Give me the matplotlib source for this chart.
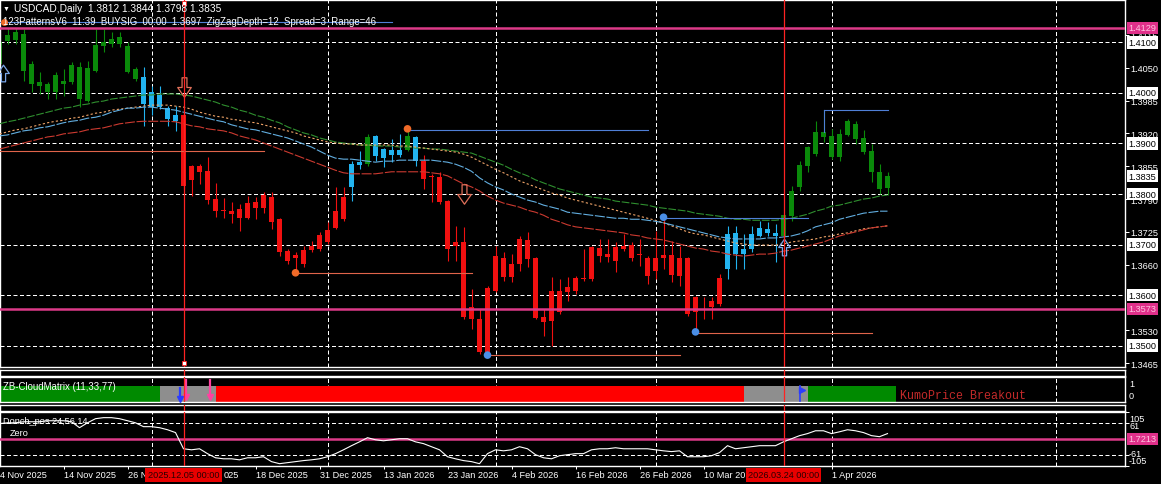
import matplotlib
matplotlib.use("Agg")
import matplotlib.pyplot as plt
from matplotlib.path import Path
from matplotlib.transforms import blended_transform_factory as blend

plt.rcParams['font.family'] = ['Liberation Sans', 'DejaVu Sans']

W, H = 1161, 485

# ---------------- data ----------------
# daily USDCAD bars, 4 Nov 2025 .. 10 Apr 2026 (bar index 0..111)
opens = [1.4057, 1.4103, 1.4121, 1.4117, 1.4057, 1.4014, 1.4018, 1.4002, 1.4024, 1.4022,
         1.4051, 1.3984, 1.4043, 1.4093, 1.4107, 1.4097, 1.4093, 1.4028, 1.4032, 1.3972,
         1.3996, 1.3970, 1.3944, 1.3956, 1.3828, 1.3855, 1.3846, 1.3790, 1.3768, 1.3766,
         1.3752, 1.3752, 1.3772, 1.3772, 1.3794, 1.3750, 1.3687, 1.3673, 1.3661, 1.3689,
         1.3691, 1.3705, 1.3733, 1.3750, 1.3814, 1.3857, 1.3859, 1.3915, 1.3871, 1.3887,
         1.3877, 1.3887, 1.3913, 1.3865, 1.3836, 1.3834, 1.3786, 1.3705, 1.3705, 1.3576,
         1.3552, 1.3487, 1.3608, 1.3673, 1.3636, 1.3661, 1.3709, 1.3673, 1.3556, 1.3548,
         1.3608, 1.3606, 1.3608, 1.3632, 1.3632, 1.3693, 1.3675, 1.3667, 1.3691, 1.3699,
         1.3681, 1.3673, 1.3647, 1.3673, 1.3679, 1.3638, 1.3673, 1.3566, 1.3572, 1.3576,
         1.3582, 1.3651, 1.3723, 1.3681, 1.3691, 1.3717, 1.3731, 1.3723, 1.3717, 1.3756,
         1.3814, 1.3855, 1.3879, 1.3923, 1.3915, 1.3873, 1.3917, 1.3939, 1.3911, 1.3885,
         1.3844, 1.3812]
highs = [1.4117, 1.4129, 1.4129, 1.4127, 1.4063, 1.4042, 1.4022, 1.4042, 1.4047, 1.4061,
         1.4061, 1.4063, 1.4127, 1.4127, 1.4121, 1.4121, 1.4101, 1.4051, 1.4051, 1.4014,
         1.4014, 1.3974, 1.3974, 1.3962, 1.3857, 1.3859, 1.3873, 1.3822, 1.3792, 1.3784,
         1.3780, 1.3796, 1.3794, 1.3804, 1.3804, 1.3752, 1.3691, 1.3685, 1.3697, 1.3707,
         1.3725, 1.3744, 1.3814, 1.3814, 1.3865, 1.3885, 1.3919, 1.3917, 1.3891, 1.3909,
         1.3919, 1.3925, 1.3915, 1.3877, 1.3840, 1.3844, 1.3788, 1.3737, 1.3735, 1.3612,
         1.3572, 1.3618, 1.3697, 1.3685, 1.3681, 1.3717, 1.3725, 1.3675, 1.3572, 1.3636,
         1.3632, 1.3636, 1.3638, 1.3691, 1.3697, 1.3711, 1.3711, 1.3705, 1.3721, 1.3705,
         1.3711, 1.3677, 1.3727, 1.3752, 1.3707, 1.3697, 1.3675, 1.3598, 1.3596, 1.3596,
         1.3642, 1.3737, 1.3737, 1.3721, 1.3737, 1.3746, 1.3744, 1.3741, 1.3760, 1.3816,
         1.3865, 1.3895, 1.3944, 1.3966, 1.3929, 1.3929, 1.3948, 1.3944, 1.3927, 1.3899,
         1.3859, 1.3844]
lows = [1.4047, 1.4097, 1.4097, 1.4024, 1.4002, 1.3998, 1.3988, 1.3988, 1.3994, 1.4018,
        1.3972, 1.3982, 1.4042, 1.4081, 1.4091, 1.4091, 1.4040, 1.4024, 1.3935, 1.3956,
        1.3968, 1.3935, 1.3925, 1.3810, 1.3796, 1.3820, 1.3780, 1.3754, 1.3752, 1.3742,
        1.3727, 1.3750, 1.3750, 1.3762, 1.3731, 1.3677, 1.3661, 1.3644, 1.3655, 1.3685,
        1.3687, 1.3701, 1.3731, 1.3746, 1.3786, 1.3850, 1.3855, 1.3865, 1.3853, 1.3863,
        1.3873, 1.3885, 1.3855, 1.3810, 1.3784, 1.3780, 1.3667, 1.3667, 1.3552, 1.3533,
        1.3483, 1.3481, 1.3606, 1.3628, 1.3626, 1.3647, 1.3655, 1.3552, 1.3519, 1.3499,
        1.3562, 1.3588, 1.3602, 1.3628, 1.3628, 1.3665, 1.3665, 1.3645, 1.3687, 1.3667,
        1.3657, 1.3622, 1.3632, 1.3651, 1.3626, 1.3618, 1.3558, 1.3527, 1.3552, 1.3552,
        1.3578, 1.3632, 1.3651, 1.3651, 1.3685, 1.3715, 1.3717, 1.3665, 1.3715, 1.3746,
        1.3806, 1.3844, 1.3875, 1.3903, 1.3869, 1.3865, 1.3915, 1.3899, 1.3879, 1.3824,
        1.3800, 1.3798]
closes = [1.4101, 1.4115, 1.4105, 1.4043, 1.4018, 1.4022, 1.4002, 1.4036, 1.4018, 1.4055,
          1.3988, 1.4049, 1.4095, 1.4101, 1.4097, 1.4111, 1.4042, 1.4047, 1.3978, 1.4002,
          1.3972, 1.3948, 1.3956, 1.3816, 1.3855, 1.3844, 1.3788, 1.3766, 1.3767, 1.3760,
          1.3770, 1.3782, 1.3784, 1.3798, 1.3744, 1.3685, 1.3667, 1.3679, 1.3689, 1.3697,
          1.3719, 1.3729, 1.3766, 1.3794, 1.3859, 1.3863, 1.3913, 1.3875, 1.3889, 1.3877,
          1.3887, 1.3915, 1.3865, 1.3830, 1.3834, 1.3784, 1.3691, 1.3697, 1.3556, 1.3552,
          1.3487, 1.3614, 1.3677, 1.3636, 1.3661, 1.3711, 1.3671, 1.3554, 1.3546, 1.3608,
          1.3566, 1.3616, 1.3634, 1.3631, 1.3695, 1.3677, 1.3681, 1.3695, 1.3697, 1.3673,
          1.3680, 1.3638, 1.3673, 1.3679, 1.3640, 1.3673, 1.3562, 1.3596, 1.3571, 1.3588,
          1.3634, 1.3721, 1.3681, 1.3691, 1.3721, 1.3733, 1.3723, 1.3717, 1.3758, 1.3806,
          1.3857, 1.3893, 1.3923, 1.3913, 1.3873, 1.3919, 1.3944, 1.3909, 1.3883, 1.3844,
          1.3810, 1.3835]
# candle colour state: g = up trend, c = neutral, r = down trend
trend = "g" * 18 + "c" * 5 + "r" * 21 + "cc" + "g" + "cccc" + "g" + "c" + "r" * 38 + "c" * 7 + "g" * 14

ma_green = [1.3939, 1.3943, 1.3946, 1.3950, 1.3954, 1.3958, 1.3962, 1.3966, 1.3970, 1.3972,
            1.3976, 1.3978, 1.3982, 1.3984, 1.3988, 1.3990, 1.3992, 1.3994, 1.3996, 1.3996,
            1.3998, 1.3998, 1.3998, 1.3996, 1.3994, 1.3990, 1.3986, 1.3982, 1.3976, 1.3972,
            1.3966, 1.3962, 1.3956, 1.3952, 1.3946, 1.3941, 1.3933, 1.3927, 1.3921, 1.3917,
            1.3911, 1.3907, 1.3903, 1.3901, 1.3899, 1.3897, 1.3897, 1.3895, 1.3895, 1.3895,
            1.3893, 1.3893, 1.3891, 1.3891, 1.3889, 1.3889, 1.3887, 1.3885, 1.3883, 1.3881,
            1.3875, 1.3869, 1.3863, 1.3857, 1.3849, 1.3842, 1.3836, 1.3828, 1.3822, 1.3816,
            1.3810, 1.3806, 1.3802, 1.3798, 1.3794, 1.3792, 1.3790, 1.3786, 1.3784, 1.3782,
            1.3780, 1.3778, 1.3774, 1.3772, 1.3770, 1.3768, 1.3766, 1.3762, 1.3760, 1.3758,
            1.3756, 1.3752, 1.3750, 1.3750, 1.3748, 1.3748, 1.3748, 1.3748, 1.3750, 1.3752,
            1.3756, 1.3760, 1.3766, 1.3770, 1.3776, 1.3778, 1.3782, 1.3786, 1.3790, 1.3792,
            1.3796, 1.3798]
ma_orange = [1.3919, 1.3923, 1.3927, 1.3929, 1.3933, 1.3937, 1.3941, 1.3944, 1.3946, 1.3950,
             1.3952, 1.3956, 1.3960, 1.3962, 1.3966, 1.3968, 1.3970, 1.3972, 1.3974, 1.3976,
             1.3976, 1.3976, 1.3974, 1.3972, 1.3968, 1.3962, 1.3958, 1.3954, 1.3952, 1.3948,
             1.3946, 1.3943, 1.3941, 1.3937, 1.3933, 1.3929, 1.3925, 1.3921, 1.3915, 1.3911,
             1.3907, 1.3903, 1.3901, 1.3899, 1.3899, 1.3897, 1.3897, 1.3897, 1.3897, 1.3897,
             1.3895, 1.3895, 1.3893, 1.3891, 1.3889, 1.3887, 1.3885, 1.3883, 1.3879, 1.3873,
             1.3865, 1.3857, 1.3849, 1.3842, 1.3834, 1.3826, 1.3820, 1.3814, 1.3808, 1.3802,
             1.3798, 1.3792, 1.3788, 1.3784, 1.3780, 1.3776, 1.3772, 1.3768, 1.3764, 1.3760,
             1.3756, 1.3752, 1.3748, 1.3743, 1.3737, 1.3731, 1.3725, 1.3721, 1.3719, 1.3715,
             1.3711, 1.3707, 1.3703, 1.3701, 1.3699, 1.3699, 1.3699, 1.3699, 1.3701, 1.3705,
             1.3707, 1.3709, 1.3711, 1.3715, 1.3717, 1.3721, 1.3723, 1.3727, 1.3731, 1.3733,
             1.3735, 1.3737]
ma_blue = [1.3915, 1.3917, 1.3921, 1.3925, 1.3927, 1.3931, 1.3933, 1.3937, 1.3941, 1.3944,
           1.3946, 1.3950, 1.3952, 1.3956, 1.3962, 1.3966, 1.3970, 1.3970, 1.3972, 1.3972,
           1.3970, 1.3968, 1.3966, 1.3962, 1.3958, 1.3954, 1.3950, 1.3946, 1.3943, 1.3937,
           1.3933, 1.3929, 1.3927, 1.3923, 1.3919, 1.3915, 1.3911, 1.3905, 1.3899, 1.3893,
           1.3885, 1.3877, 1.3871, 1.3869, 1.3869, 1.3867, 1.3865, 1.3863, 1.3865, 1.3865,
           1.3867, 1.3867, 1.3867, 1.3867, 1.3867, 1.3865, 1.3863, 1.3859, 1.3853, 1.3845,
           1.3832, 1.3822, 1.3814, 1.3808, 1.3800, 1.3794, 1.3788, 1.3784, 1.3778, 1.3774,
           1.3770, 1.3764, 1.3762, 1.3760, 1.3758, 1.3756, 1.3754, 1.3752, 1.3752, 1.3750,
           1.3750, 1.3748, 1.3746, 1.3743, 1.3739, 1.3735, 1.3731, 1.3727, 1.3723, 1.3719,
           1.3715, 1.3713, 1.3711, 1.3711, 1.3711, 1.3711, 1.3713, 1.3713, 1.3715, 1.3717,
           1.3721, 1.3727, 1.3735, 1.3739, 1.3743, 1.3750, 1.3754, 1.3758, 1.3762, 1.3764,
           1.3766, 1.3766]
ma_red = [1.3889, 1.3893, 1.3897, 1.3901, 1.3905, 1.3909, 1.3913, 1.3915, 1.3919, 1.3921,
          1.3923, 1.3927, 1.3929, 1.3931, 1.3935, 1.3939, 1.3941, 1.3943, 1.3944, 1.3944,
          1.3944, 1.3944, 1.3943, 1.3939, 1.3935, 1.3933, 1.3929, 1.3927, 1.3925, 1.3921,
          1.3915, 1.3911, 1.3907, 1.3901, 1.3895, 1.3889, 1.3883, 1.3877, 1.3871, 1.3865,
          1.3859, 1.3853, 1.3847, 1.3842, 1.3840, 1.3840, 1.3840, 1.3840, 1.3842, 1.3844,
          1.3844, 1.3844, 1.3844, 1.3844, 1.3842, 1.3840, 1.3836, 1.3828, 1.3820, 1.3814,
          1.3806, 1.3796, 1.3788, 1.3782, 1.3778, 1.3774, 1.3768, 1.3764, 1.3758, 1.3750,
          1.3745, 1.3739, 1.3735, 1.3733, 1.3731, 1.3729, 1.3727, 1.3725, 1.3723, 1.3719,
          1.3717, 1.3713, 1.3711, 1.3709, 1.3705, 1.3701, 1.3697, 1.3693, 1.3691, 1.3687,
          1.3685, 1.3681, 1.3679, 1.3677, 1.3679, 1.3681, 1.3681, 1.3683, 1.3687, 1.3689,
          1.3693, 1.3697, 1.3701, 1.3705, 1.3711, 1.3717, 1.3721, 1.3725, 1.3729, 1.3733,
          1.3735, 1.3737]

# ZigZag / 123 pattern pivots and their level lines
pivot_bars = [37, 51, 61, 83, 87]
pivot_prices = [1.3644, 1.3929, 1.3481, 1.3754, 1.3527]
pivot_colors = ['#f06a28', '#f06a28', '#4a8ee6', '#4a8ee6', '#4a8ee6']
level_start = [0, 37, 51, 61, 83, 87, 103, 0]
level_end = [33, 59, 81, 85, 101, 109, 111, 49]
level_price = [1.3885, 1.3644, 1.3927, 1.3481, 1.3752, 1.3525, 1.3966, 1.4141]
level_color = ['#e0644a', '#e0644a', '#4f7fd6', '#e0644a', '#4f7fd6', '#e0644a', '#4f7fd6', '#4f7fd6']
down_arrow_bars = [23, 58]
down_arrow_prices = [1.4012, 1.3800]
up_arrow_bars = [0.4, 98]
up_arrow_prices = [1.4040, 1.3695]

# horizontal line objects and vertical date lines
pink_levels = [1.4129, 1.3573]
vline_bars = [23, 98]
vline_labels = ["2025.12.05 00:00", "2026.03.24 00:00"]
bid_price = 1.3835

price_ticks = [1.4115, 1.4050, 1.3985, 1.3920, 1.3855, 1.3790, 1.3725, 1.3660, 1.3530, 1.3465]
grid_prices = [1.4100, 1.4000, 1.3900, 1.3800, 1.3700, 1.3600, 1.3500]
month_bars = [19, 41, 62, 82, 104, 132]
# time scale labels; parts hidden behind the red date boxes are left out
date_bars = [0, 8, 16, 32, 40, 48, 56, 64, 72, 80, 88, 104]
date_labels = ["4 Nov 2025", "14 Nov 2025", "26 N", "18 Dec 2025",
               "31 Dec 2025", "13 Jan 2026", "23 Jan 2026", "4 Feb 2026", "16 Feb 2026",
               "26 Feb 2026", "10 Mar 20", "1 Apr 2026"]
date_tail_bar = 28
date_tail_label = "025"

# ZB-CloudMatrix state per bar: g bull, n neutral, r bear
cloud = "g" * 20 + "n" * 7 + "r" * 66 + "n" * 8 + "g" * 11
cloud_down_bars = [23, 26]
cloud_up_bars = [22, 100]

# Donch_pos oscillator
donch = [60, 63, 63, 67, 67, 67, 71, 71, 71, 67, 44, 63, 79, 83, 83, 79, 71, 63, 48, 48,
         44, 36, 25, -38, -42, -38, -57, -73, -77, -77, -81, -73, -73, -69, -88, -96, -92, -88, -84, -81,
         -77, -69, -57, -42, -26, -11, 5, -3, -7, -3, 1, 1, -11, -18, -30, -42, -69, -77, -84, -88,
         -96, -57, -42, -46, -42, -30, -38, -61, -73, -77, -65, -61, -57, -57, -42, -38, -38, -34, -38, -38,
         -38, -38, -42, -46, -49, -46, -69, -69, -69, -65, -53, -26, -38, -34, -30, -26, -26, -26, -11, 1,
         13, 21, 32, 32, 21, 28, 36, 32, 25, 13, 9, 21]
donch_levels = [61, -61]

# ---------------- figure ----------------
BG = 'black'
GREEN, CYAN, RED = '#0a8a0a', '#22b4f0', '#f01010'
PINK = '#dc3a88'
VRED = '#ff2222'
FS = 6.6

fig = plt.figure(figsize=(W / 100, H / 100), dpi=100, facecolor=BG)


def px_axes(x0, y0, x1, y1):
    ax = fig.add_axes([x0 / W, 1 - y1 / H, (x1 - x0) / W, (y1 - y0) / H])
    ax.set_facecolor(BG)
    # 8 px per bar, bar centres on pixel centres
    ax.set_xlim(0.0625, 140.6875)
    ax.set_xticks([])
    ax.set_yticks([])
    for s in ax.spines.values():
        s.set_color('white')
        s.set_linewidth(1.0)
    return ax


def ftext(x, y, s, **kw):
    opts = dict(fontsize=FS, color='white', va='center')
    opts.update(kw)
    fig.text(x / W, 1 - y / H, s, **opts)


def vgrid(ax):
    for m in month_bars:
        ax.axvline(m, color='white', lw=0.72, ls=(0, (4, 2.5)), zorder=1)


def arrow_marker(down=True):
    v = [(-0.25, 1), (0.25, 1), (0.25, 0), (0.7, 0), (0, -1), (-0.7, 0), (-0.25, 0), (-0.25, 1)]
    if not down:
        v = [(a, -b) for a, b in v]
    return Path(v, [Path.MOVETO] + [Path.LINETO] * 6 + [Path.CLOSEPOLY])


main = px_axes(0, 1, 1125, 368)
thin1 = px_axes(0, 371, 1125, 377)
sub1 = px_axes(0, 378, 1125, 403)
thin2 = px_axes(0, 406, 1125, 412)
sub2 = px_axes(0, 413, 1125, 467)

# ---- main price pane ----
main.set_ylim(1.34575, 1.41841)
vgrid(main)
for g in grid_prices:
    main.axhline(g, color='white', lw=0.72, ls=(0, (4, 2.5)), zorder=1)

cmap = {'g': GREEN, 'c': CYAN, 'r': RED}
xs = list(range(len(opens)))
cols = [cmap[t] for t in trend]
main.vlines(xs, lows, highs, colors=cols, lw=0.8, zorder=2)
bottoms = [min(o, c) for o, c in zip(opens, closes)]
heights = [max(abs(c - o), 0.00022) for o, c in zip(opens, closes)]
main.bar(xs, heights, bottom=bottoms, width=0.625, color=cols, linewidth=0, zorder=2)

main.plot(xs, ma_green, color='#2f8f2f', lw=0.8, ls=(0, (7, 1.5)), zorder=3)
main.plot(xs, ma_orange, color='#f2a66a', lw=0.8, ls=(0, (2, 2)), zorder=3)
main.plot(xs, ma_blue, color='#62aee0', lw=0.8, ls=(0, (9, 1.5)), zorder=3)
main.plot(xs, ma_red, color='#cc3a30', lw=0.8, ls=(0, (9, 1.5)), zorder=3)

for a, b, p, c in zip(level_start, level_end, level_price, level_color):
    main.plot([a, b], [p, p], color=c, lw=0.8, zorder=3)
main.plot([103, 103], [1.3966, 1.3923], color='#4f7fd6', lw=0.8, zorder=3)
main.scatter(pivot_bars, pivot_prices, s=30, c=pivot_colors, zorder=5, linewidths=0)
main.plot(down_arrow_bars, down_arrow_prices, ls='none', marker=arrow_marker(True), ms=14,
          mfc='none', mec='#e0705a', mew=0.9, zorder=5)
main.plot(up_arrow_bars, up_arrow_prices, ls='none', marker=arrow_marker(False), ms=12,
          mfc='none', mec='#7aa6e8', mew=0.9, zorder=5)

for p in pink_levels:
    main.axhline(p, color=PINK, lw=1.8, zorder=4)

for ax in (main, thin1, sub1, thin2, sub2):
    for b in vline_bars:
        ax.axvline(b, color=VRED, lw=0.9, zorder=6)
tr = blend(main.transData, main.transAxes)
main.plot([vline_bars[0]] * 2, [0.993, 0.01], transform=tr, ls='none', marker='s', ms=3,
          mfc='white', mec=VRED, mew=0.6, zorder=7)

# right price scale
main.yaxis.tick_right()
main.set_yticks(price_ticks)
main.set_yticklabels([f"{p:.4f}" for p in price_ticks])
main.tick_params(axis='y', colors='white', labelsize=FS, length=3, width=0.72, pad=1)
ytr = main.get_yaxis_transform()
for g in grid_prices + [bid_price]:
    main.text(1.0032, g, f"{g:.4f}", transform=ytr, fontsize=FS, color='black', va='center',
              bbox=dict(boxstyle='square,pad=0.18', fc='white', ec='none'), clip_on=False, zorder=8)
for p in pink_levels:
    main.text(1.0032, p, f"{p:.4f}", transform=ytr, fontsize=FS, color='#ffc4e0', va='center',
              bbox=dict(boxstyle='square,pad=0.18', fc='#e0308a', ec='none'), clip_on=False, zorder=8)

# header texts
ftext(3, 9, "\u25bc", fontsize=5)
ftext(14, 9, "USDCAD,Daily  1.3812 1.3844 1.3798 1.3835", fontsize=7.3)
ftext(3, 22, "123PatternsV6  11:39  BUYSIG  00:00  1.3697  ZigZagDepth=12  Spread=3  Range=46",
      fontsize=6.9)
main.plot([0.6], [1.4141], ls='none', marker='o', ms=4, color='#f06a28', zorder=5)

# ---- ZB-CloudMatrix pane ----
ccol = {'g': '#008a00', 'n': '#8e8e8e', 'r': '#ff0000'}
sub1.set_ylim(0, 1.5625)
sub1.bar(xs, [1] * len(xs), width=1, align='edge', color=[ccol[c] for c in cloud], linewidth=0, zorder=2)
vgrid(sub1)
for b in cloud_down_bars:
    sub1.plot([b + 0.35, b + 0.35], [0.25, 1.4], color='#ff40a0', lw=1.6, zorder=4)
    sub1.plot([b + 0.35], [0.3], marker='v', ms=5, color='#ff40a0', zorder=4)
sub1.plot([cloud_up_bars[0] + 0.6] * 2, [0.1, 0.9], color='#2a3cff', lw=1.6, zorder=4)
sub1.plot([cloud_up_bars[0] + 0.6], [0.2], marker='v', ms=4, color='#2a3cff', zorder=4)
sub1.plot([cloud_up_bars[1]] * 2, [0.05, 1.0], color='#2a3cff', lw=1.2, zorder=4)
sub1.plot([cloud_up_bars[1] + 0.35], [0.75], marker='>', ms=5, color='#2a3cff', zorder=4)
ftext(3, 387, "ZB-CloudMatrix (11,33,77)", fontsize=6.9)
ftext(900, 396, "KumoPrice Breakout", family='Liberation Mono', fontsize=8.4, color='#c42a2a')
ftext(1129, 385, "1")
ftext(1129, 397, "0")

# ---- Donch_pos pane ----
sub2.set_ylim(-105, 105)
vgrid(sub2)
for lv in donch_levels:
    sub2.axhline(lv, color='white', lw=0.72, ls=(0, (4, 2.5)), zorder=1)
sub2.axhline(0, color=PINK, lw=1.8, zorder=3)
sub2.plot(xs, donch, color='white', lw=0.8, zorder=4)
sub2.yaxis.tick_right()
sub2.set_yticks([105, 61, -61, -105])
sub2.set_yticklabels([])
sub2.tick_params(axis='y', colors='white', length=3, width=0.72)
ftext(1129, 419, "105")
ftext(1129, 426.5, "61")
ftext(1129, 454.5, "-61")
ftext(1129, 462, "-105")
sub2.text(1.0032, 0, "1.7213", transform=sub2.get_yaxis_transform(), fontsize=FS, color='#ffc4e0',
          va='center', bbox=dict(boxstyle='square,pad=0.18', fc='#e0308a', ec='none'), clip_on=False)
ftext(3, 422, "Donch_pos 24,56,14")
ftext(10, 434, "Zero")

# time scale
sub2.set_xticks([b for b in date_bars if b > 0])
sub2.tick_params(axis='x', colors='white', length=2, width=0.72, labelbottom=False)
dtr = blend(sub2.transData, fig.transFigure)
for b, lab in zip(date_bars, date_labels):
    sub2.text(b, 1 - 476 / H, lab, transform=dtr, fontsize=FS, color='white', ha='left',
              va='center', clip_on=False)
sub2.text(date_tail_bar, 1 - 476 / H, date_tail_label, transform=dtr, fontsize=FS, color='white',
          ha='left', va='center', clip_on=False)
for b, lab in zip(vline_bars, vline_labels):
    sub2.text(b, 1 - 476 / H, lab, transform=dtr, fontsize=FS, color='#2a0000', ha='center',
              va='center', clip_on=False, zorder=9,
              bbox=dict(boxstyle='square,pad=0.25', fc='#e80000', ec='none'))

fig.savefig("out.png", dpi=100, facecolor=BG)
